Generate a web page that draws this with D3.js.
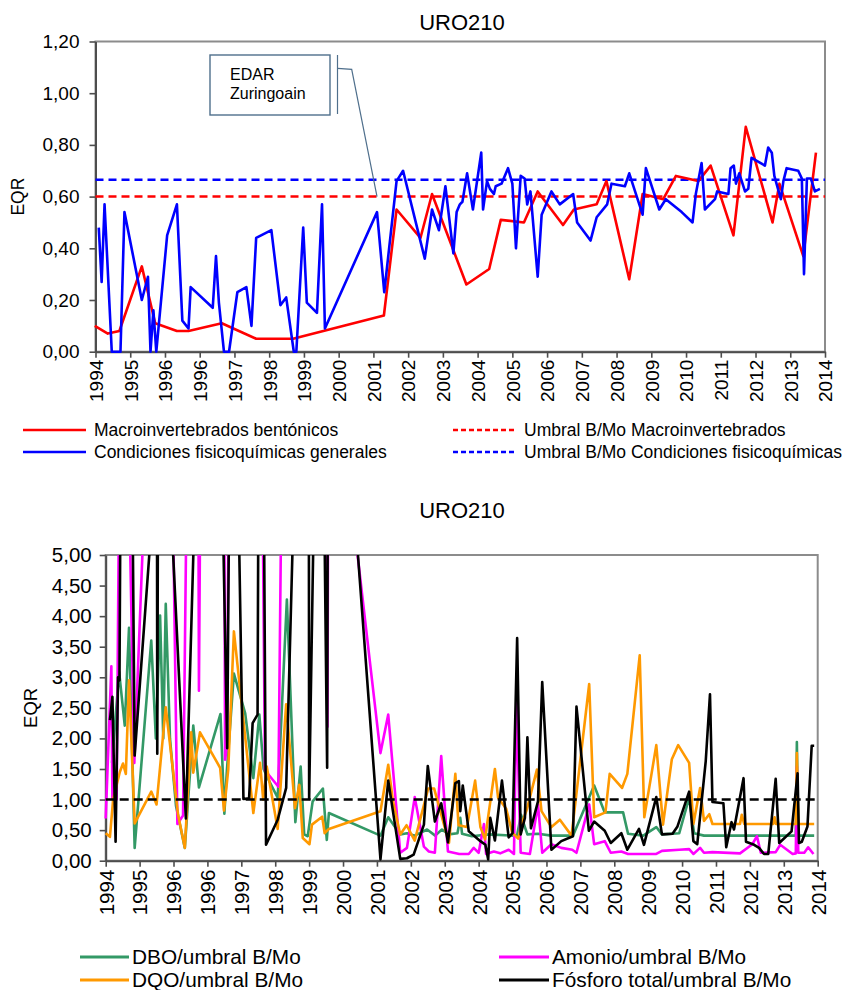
<!DOCTYPE html>
<html>
<head>
<meta charset="utf-8">
<script src="https://cdn.jsdelivr.net/npm/d3@7"></script>
<style>
  body { margin: 0; background: #fff; }
  svg { font-family: "Liberation Sans", Arial, sans-serif; }
</style>
</head>
<body>
<svg id="chart" width="847" height="990"></svg>
<script>
// ---------- shared date axis (fixed major unit, labelled by year) ----------
const axisStart = 1994.1;
const axisStep = 0.96;
const tickLabels = ["1994","1995","1996","1996","1997","1998","1999","2000","2001","2002","2003",
  "2004","2005","2006","2007","2008","2009","2010","2011","2012","2013","2014"];

// ---------- upper chart: EQR ----------
const yTicksTop = [0, 0.2, 0.4, 0.6, 0.8, 1.0, 1.2];
const macroThreshold = 0.60;
const fqThreshold = 0.665;

const macroYears = [1994.08,1994.44,1994.76,1995.38,1995.75,1996.35,1996.67,1997.59,1998.54,1999.56,
  2002.07,2002.42,2003.08,2003.40,2004.35,2004.98,2005.30,2005.94,2006.32,2007.02,2007.32,2007.95,
  2008.22,2008.85,2009.22,2009.79,2010.14,2010.76,2011.10,2011.73,2012.07,2012.81,2013.00,2013.66,2014.01];
const macroValues = [0.10,0.07,0.08,0.33,0.11,0.08,0.08,0.11,0.05,0.05,
  0.14,0.55,0.44,0.61,0.26,0.32,0.51,0.50,0.62,0.49,0.55,0.57,
  0.66,0.28,0.61,0.59,0.68,0.66,0.72,0.45,0.87,0.50,0.65,0.37,0.77];

const fqYears = [1994.19,1994.27,1994.35,1994.55,1994.79,1994.90,1995.38,1995.55,1995.62,1995.70,1995.78,
  1996.08,1996.35,1996.50,1996.67,1996.73,1997.34,1997.43,1997.51,1997.65,1997.79,1998.02,1998.27,
  1998.41,1998.54,1998.96,1999.21,1999.37,1999.58,1999.65,1999.84,1999.94,2000.22,2000.36,2000.44,
  2001.88,2002.08,2002.42,2002.60,2003.04,2003.20,2003.40,2003.59,2003.77,2003.99,2004.08,2004.17,
  2004.24,2004.37,2004.53,2004.76,2004.81,2004.92,2005.00,2005.11,2005.16,2005.32,2005.50,2005.62,
  2005.72,2005.85,2005.96,2006.03,2006.12,2006.32,2006.43,2006.70,2006.93,2007.30,2007.41,2007.78,
  2007.95,2008.24,2008.36,2008.73,2008.85,2009.22,2009.31,2009.68,2009.86,2010.30,2010.60,2010.69,
  2010.85,2010.94,2011.22,2011.28,2011.59,2011.65,2011.74,2011.80,2011.89,2012.05,2012.14,2012.23,
  2012.60,2012.69,2012.79,2012.86,2013.04,2013.11,2013.20,2013.52,2013.62,2013.68,2013.76,2013.87,
  2013.98,2014.12];
const fqValues = [0.48,0.27,0.57,0,0,0.54,0.20,0.29,0,0.16,0,
  0.45,0.57,0.12,0.09,0.25,0.17,0.37,0.19,0,0,0.23,0.25,
  0.10,0.44,0.47,0.18,0.21,0,0,0.48,0.19,0.15,0.57,0.09,
  0.54,0.23,0.66,0.70,0.45,0.36,0.55,0.47,0.64,0.38,0.54,0.57,
  0.58,0.69,0.55,0.77,0.55,0.66,0.63,0.61,0.64,0.65,0.71,0.65,
  0.40,0.68,0.67,0.57,0.62,0.29,0.53,0.62,0.57,0.61,0.50,0.43,
  0.52,0.57,0.65,0.64,0.69,0.53,0.71,0.55,0.59,0.54,0.50,0.61,
  0.73,0.55,0.59,0.62,0.61,0.71,0.72,0.65,0.69,0.62,0.63,0.75,
  0.72,0.79,0.77,0.68,0.59,0.66,0.71,0.70,0.67,0.30,0.67,0.67,
  0.62,0.63];

// ---------- lower chart: ratio to the good/moderate boundary ----------
const yTicksBottom = [0, 0.5, 1, 1.5, 2, 2.5, 3, 3.5, 4, 4.5, 5];
const ratioThreshold = 1;

const dboYears = [1994.28,1994.48,1994.64,1994.76,1994.92,1995.39,1995.52,1995.64,1995.73,1995.80,1995.92,
  1996.09,1996.34,1996.58,1996.74,1997.35,1997.46,1997.53,1997.73,1998.05,1998.28,1998.45,1998.57,
  1998.73,1998.97,1999.23,1999.47,1999.62,1999.72,1999.82,1999.96,2000.25,2000.36,2000.42,
  2001.88,2002.10,2002.44,2002.63,2002.85,2003.20,2003.43,2003.62,2003.81,2004.06,2004.14,2004.19,
  2004.47,2004.95,2005.61,2005.75,2005.86,2005.97,2006.04,2006.34,2006.72,2007.33,2007.93,2008.23,
  2008.75,2008.89,2009.32,2009.69,2009.85,2010.34,2010.62,2010.76,2011.04,2013.64,2013.67,2013.71,2014.16];
const dboValues = [1.60,3.09,2.21,3.81,0.21,3.60,2.00,4.01,2.00,4.20,2.00,
  0.90,0.21,2.21,1.20,2.40,0.77,1.46,3.06,2.41,1.35,2.39,1.50,
  1.30,1.03,4.27,0.63,1.54,0.43,0.40,0.97,1.18,0.34,0.78,
  0.41,0.71,0.43,0.45,0.41,0.51,0.41,0.51,0.43,0.45,0.70,0.44,
  0.40,0.43,0.41,0.42,0.75,0.55,0.43,0.44,0.41,0.41,1.23,0.79,
  0.79,0.44,0.41,0.55,0.43,0.45,1.03,0.45,0.41,0.41,1.94,0.41,0.41];

const amonioYears = [1994.10,1994.26,1994.29,1994.41,1994.56,1994.91,1995.24,1995.50,1995.78,1996.13,1996.29,
  1996.66,1996.74,1996.94,1997.39,1997.48,1997.53,1997.76,1998.33,1998.61,1998.99,1999.32,2000.17,
  2000.38,2000.41,2001.88,2002.10,2002.44,2002.63,2002.85,2003.11,2003.25,2003.42,2003.60,2003.79,
  2004.11,2004.38,2004.52,2004.66,2004.81,2004.87,2005.09,2005.27,2005.51,2005.66,2005.73,2005.85,
  2006.11,2006.34,2006.46,2006.72,2007.00,2007.31,2007.43,2007.79,2007.93,2008.23,2008.40,2008.70,
  2008.89,2009.69,2009.85,2010.34,2010.62,2010.74,2010.93,2011.04,2011.28,2012.06,2012.41,2012.54,
  2012.65,2013.07,2013.20,2013.55,2013.64,2013.67,2013.71,2013.88,2013.99,2014.14];
const amonioValues = [0.69,3.18,1.01,1.00,12,1.60,6.5,25,15,0.60,0.74,
  20,2.78,20,20,1.65,1.86,20,20,1.48,1.21,20,20,
  2.19,9.1,1.76,2.39,0.13,0.21,1.04,0.23,0.15,0.13,1.71,0.15,
  0.11,0.11,0.21,0.13,0.60,0.11,0.15,0.12,0.18,0.11,2.60,0.13,
  0.11,0.92,0.13,0.27,0.21,0.18,0.13,0.92,0.27,0.32,0.13,0.15,
  0.11,0.11,0.16,0.18,0.19,0.11,0.21,0.13,0.14,0.12,0.27,0.40,
  0.13,0.14,0.26,0.11,0.12,1.54,0.13,0.13,0.22,0.11];

const dqoYears = [1994.10,1994.22,1994.31,1994.50,1994.59,1994.67,1994.76,1994.92,1995.39,1995.54,1995.80,
  1996.15,1996.34,1996.52,1996.58,1996.77,1997.34,1997.45,1997.57,1997.73,1998.28,1998.47,1998.56,
  1998.66,1998.97,1999.21,1999.46,1999.58,1999.68,1999.87,1999.94,2000.23,2000.30,2000.42,
  2001.88,2002.10,2002.23,2002.44,2002.62,2002.85,2003.23,2003.40,2003.82,2004.00,2004.09,2004.33,
  2004.56,2004.71,2004.84,2005.12,2005.21,2005.44,2005.61,2005.78,2005.88,2006.03,2006.31,2006.44,
  2006.72,2006.96,2007.29,2007.79,2007.93,2008.25,2008.37,2008.72,2008.87,2009.22,2009.35,2009.69,
  2009.88,2010.13,2010.31,2010.62,2010.74,2010.93,2011.04,2011.19,2011.28,2012.06,2012.11,2012.18,
  2013.00,2013.04,2013.08,2013.64,2013.67,2013.71,2014.16];
const dqoValues = [0.45,0.39,1.00,1.45,1.59,1.42,2.95,0.61,1.13,0.92,2.51,
  0.75,0.21,2.10,1.44,2.10,1.52,0.82,1.49,3.75,0.78,1.60,1.00,
  1.54,0.52,2.56,0.86,1.24,0.37,0.27,0.59,0.72,0.45,0.52,
  0.81,1.57,0.99,0.43,0.58,0.33,1.18,1.18,0.29,1.42,0.58,0.55,
  1.31,0.55,0.35,1.50,1.03,0.85,0.46,0.36,0.60,0.85,1.49,0.81,
  0.55,0.67,0.41,2.89,0.71,0.79,1.42,1.19,1.42,3.36,0.71,1.89,
  0.59,1.66,1.89,1.60,0.60,1.19,0.65,0.76,0.60,0.60,0.75,0.60,
  0.60,0.71,0.60,0.60,1.76,0.60,0.60];

const fosforoYears = [1994.22,1994.29,1994.38,1994.45,1994.49,1994.65,1994.92,1995.41,1995.51,1995.56,1995.67,
  1995.81,1995.96,1996.37,1996.63,1996.91,1997.20,1997.39,1997.54,1997.68,1998.00,1998.16,1998.26,
  1998.40,1998.48,1998.64,1998.97,1999.21,1999.57,1999.80,1999.86,2000.17,2000.37,2000.41,
  2001.88,2002.10,2002.44,2002.63,2002.82,2003.11,2003.22,2003.42,2003.60,2003.79,2004.00,2004.10,
  2004.14,2004.21,2004.38,2004.71,2004.85,2004.93,2004.99,2005.12,2005.32,2005.51,2005.62,2005.75,
  2005.85,2005.97,2006.04,2006.14,2006.34,2006.46,2006.72,2007.00,2007.33,2007.43,2007.78,2007.93,
  2008.23,2008.40,2008.70,2008.87,2009.20,2009.34,2009.69,2009.85,2010.15,2010.29,2010.62,2010.74,
  2010.85,2011.09,2011.21,2011.28,2011.59,2011.67,2011.82,2011.89,2012.16,2012.23,2012.46,2012.60,
  2012.74,2012.86,2013.07,2013.17,2013.52,2013.69,2013.73,2013.81,2013.97,2014.09,2014.16];
const fosforoValues = [2.30,2.68,0.31,3.00,2.95,20,1.72,5.6,30,1.75,25,
  25,5.6,0.69,6,30,30,6.5,1.84,12,1.01,1.02,2.25,
  2.39,15,0.26,0.67,1.19,9,40,1.01,12,1.52,11.5,
  0.02,1.31,0.03,0.04,0.10,0.59,1.55,0.64,0.94,0.30,1.27,1.30,
  0.81,1.23,0.48,0.32,0.26,0.02,0.70,0.33,1.31,0.38,0.45,3.64,
  0.43,0.70,2.02,0.53,0.97,2.92,0.18,0.32,0.40,2.52,0.49,0.64,
  0.49,0.29,0.45,0.18,0.52,0.26,1.04,0.43,0.44,0.56,1.13,0.32,
  0.27,1.63,2.72,0.96,0.94,0.22,0.63,0.51,1.35,0.31,0.26,0.21,
  0.11,0.11,1.34,0.29,0.48,1.43,0.29,0.31,0.56,1.88,1.88];

// ---------- drawing ----------
const svg = d3.select("#chart");
const comma = d3.formatLocale({decimal: ",", thousands: ".", grouping: [3], currency: ["", "€"]}).format(".2f");
const tickPositions = tickLabels.map((_, i) => axisStart + i * axisStep);
const axisEnd = tickPositions[tickPositions.length - 1];
const zip = (xs, ys) => xs.map((x, i) => [x, ys[i]]);

function drawFrame(g, x, y, yTicks, opt) {
  const [x0, x1] = x.range();
  const [y0, y1] = y.range();
  // plot border
  g.append("rect")
    .attr("x", x0).attr("y", y1).attr("width", x1 - x0).attr("height", y0 - y1)
    .attr("fill", "none").attr("stroke", "#8c8c8c").attr("stroke-width", 2);

  const yAxis = g.append("g").attr("transform", `translate(${x0},0)`)
    .call(d3.axisLeft(y).tickValues(yTicks).tickFormat(comma).tickSize(6).tickSizeOuter(0).tickPadding(opt.yPad));
  const xAxis = g.append("g").attr("transform", `translate(0,${y0})`)
    .call(d3.axisBottom(x).tickValues(tickPositions).tickFormat((d, i) => tickLabels[i]).tickSize(6).tickSizeOuter(0));

  [yAxis, xAxis].forEach(a => {
    a.select(".domain").attr("stroke", "#4d4d4d").attr("stroke-width", 2);
    a.selectAll(".tick line").attr("stroke", "#4d4d4d").attr("stroke-width", 1.6);
    a.selectAll("text").attr("fill", "#000").style("font-family", '"Liberation Sans", Arial, sans-serif');
  });
  yAxis.selectAll("text").style("font-size", opt.tickFont + "px");
  xAxis.selectAll("text")
    .style("font-size", opt.tickFont + "px")
    .attr("transform", "rotate(-90)")
    .attr("x", -opt.xPad).attr("y", 0).attr("dy", "0.36em")
    .style("text-anchor", "end");

  // y axis title
  g.append("text")
    .attr("transform", `translate(${opt.labelX},${(y0 + y1) / 2}) rotate(-90)`)
    .attr("text-anchor", "middle").attr("dy", "0.36em")
    .style("font-size", opt.labelFont + "px").text("EQR");
  // chart title
  g.append("text")
    .attr("x", opt.titleX).attr("y", opt.titleY)
    .attr("text-anchor", "middle")
    .style("font-size", opt.titleFont + "px").text("URO210");
}

function drawSeries(g, x, y, data, color, width, dash) {
  g.append("path")
    .datum(data)
    .attr("fill", "none")
    .attr("stroke", color)
    .attr("stroke-width", width)
    .attr("stroke-linejoin", "round")
    .attr("stroke-dasharray", dash || null)
    .attr("d", d3.line().x(d => x(d[0])).y(d => y(d[1])));
}

function legendItem(g, xLine, yRow, lineLen, color, dash, label, font, width, gap) {
  g.append("line")
    .attr("x1", xLine).attr("x2", xLine + lineLen).attr("y1", yRow).attr("y2", yRow)
    .attr("stroke", color).attr("stroke-width", width).attr("stroke-dasharray", dash || null);
  g.append("text")
    .attr("x", xLine + lineLen + gap).attr("y", yRow).attr("dy", "0.36em")
    .style("font-size", font + "px").text(label);
}

// ----- upper chart -----
const upperChart = svg.append("g");
const xTop = d3.scaleLinear().domain([axisStart, axisEnd]).range([95.5, 825]);
const yTop = d3.scaleLinear().domain([0, 1.2]).range([351.7, 41.5]);
drawFrame(upperChart, xTop, yTop, yTicksTop,
  {tickFont: 19, labelFont: 17.5, titleFont: 22, yPad: 10, xPad: 8, labelX: 18, titleX: 462, titleY: 30});

drawSeries(upperChart, xTop, yTop, [[axisStart, macroThreshold], [axisEnd, macroThreshold]], "#ff0000", 2.5, "8,5");
drawSeries(upperChart, xTop, yTop, [[axisStart, fqThreshold], [axisEnd, fqThreshold]], "#0000ff", 2.5, "8,5");
drawSeries(upperChart, xTop, yTop, zip(macroYears, macroValues), "#ff0000", 2.6);
drawSeries(upperChart, xTop, yTop, zip(fqYears, fqValues), "#0000ff", 2.6);

// callout pointing to the start of the second period
const calloutX = xTop(2001.88), calloutY = yTop(macroThreshold);
upperChart.append("rect").attr("x", 210).attr("y", 55).attr("width", 120).attr("height", 60)
  .attr("fill", "#fff").attr("stroke", "#4f6f8c").attr("stroke-width", 1.4);
upperChart.append("text").attr("x", 230).attr("y", 80).style("font-size", "16px").text("EDAR");
upperChart.append("text").attr("x", 230).attr("y", 99).style("font-size", "16px").text("Zuringoain");
upperChart.append("line").attr("x1", 337.5).attr("x2", 337.5).attr("y1", 55).attr("y2", 114)
  .attr("stroke", "#4f6f8c").attr("stroke-width", 1.2);
upperChart.append("path")
  .attr("d", `M337.5,68.3 L351.7,69.3 L${calloutX},${calloutY}`)
  .attr("fill", "none").attr("stroke", "#4f6f8c").attr("stroke-width", 1.2);

const legTop = svg.append("g");
legendItem(legTop, 23, 430, 63, "#ff0000", null, "Macroinvertebrados bentónicos", 17.5, 2.6, 8);
legendItem(legTop, 453, 430, 64, "#ff0000", "5,3", "Umbral B/Mo Macroinvertebrados", 17.5, 2.6, 7);
legendItem(legTop, 23, 452, 63, "#0000ff", null, "Condiciones fisicoquímicas generales", 17.5, 2.6, 8);
legendItem(legTop, 453, 452, 64, "#0000ff", "5,3", "Umbral B/Mo Condiciones fisicoquímicas", 17.5, 2.6, 7);

// ----- lower chart -----
const lowerChart = svg.append("g");
const xBot = d3.scaleLinear().domain([axisStart, axisEnd]).range([105.7, 817.7]);
const yBot = d3.scaleLinear().domain([0, 5]).range([860.7, 555]);
drawFrame(lowerChart, xBot, yBot, yTicksBottom,
  {tickFont: 20.5, labelFont: 18.5, titleFont: 22, yPad: 8, xPad: 9, labelX: 30, titleX: 462, titleY: 518});

lowerChart.append("clipPath").attr("id", "plotClip")
  .append("rect").attr("x", 104).attr("y", 555).attr("width", 716).attr("height", 309);
const seriesLayer = lowerChart.append("g").attr("clip-path", "url(#plotClip)");
drawSeries(seriesLayer, xBot, yBot, zip(dboYears, dboValues), "#339966", 2.6);
drawSeries(seriesLayer, xBot, yBot, zip(amonioYears, amonioValues), "#ff00ff", 2.6);
drawSeries(seriesLayer, xBot, yBot, zip(dqoYears, dqoValues), "#ff9900", 2.6);
drawSeries(seriesLayer, xBot, yBot, zip(fosforoYears, fosforoValues), "#000000", 2.6);
drawSeries(seriesLayer, xBot, yBot, [[axisStart, ratioThreshold], [axisEnd, ratioThreshold]], "#000000", 2.5, "9,5");

const legBot = svg.append("g");
legendItem(legBot, 80, 957, 49, "#339966", null, "DBO/umbral B/Mo", 20.8, 3, 3);
legendItem(legBot, 499, 957, 50, "#ff00ff", null, "Amonio/umbral B/Mo", 20.8, 3, 3);
legendItem(legBot, 80, 980, 49, "#ff9900", null, "DQO/umbral B/Mo", 20.8, 3, 3);
legendItem(legBot, 499, 980, 50, "#000000", null, "Fósforo total/umbral B/Mo", 20.8, 3, 3);
</script>
</body>
</html>
